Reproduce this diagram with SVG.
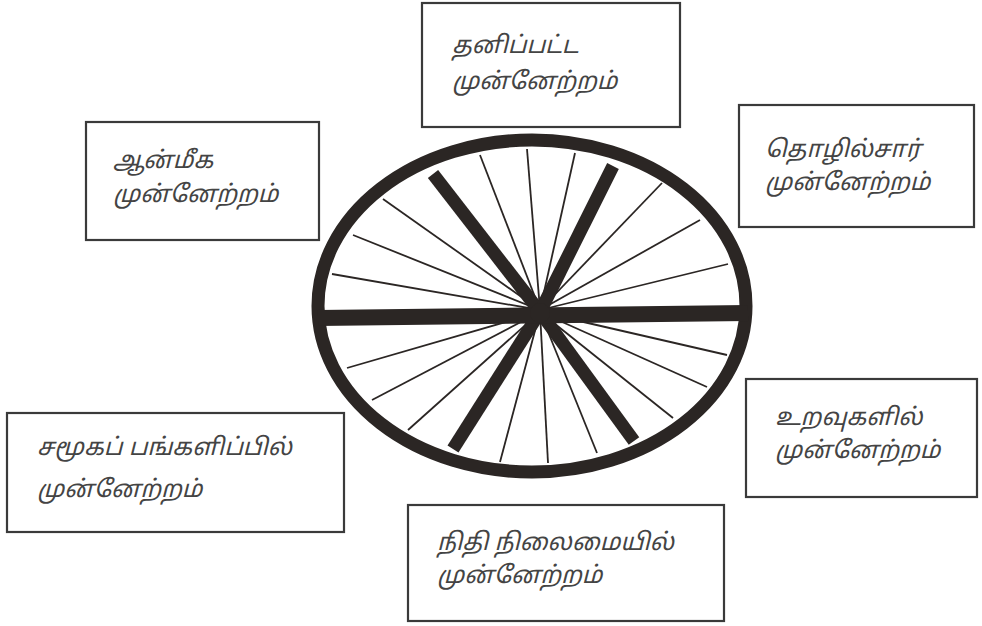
<svg xmlns="http://www.w3.org/2000/svg" width="982" height="626" viewBox="0 0 982 626">
<style>
.box{fill:#fff;stroke:#3a3a3a;stroke-width:2.2}
.t{font-family:"Noto Sans Tamil","Lohit Tamil","Noto Serif Tamil","Latha",sans-serif;font-size:24px;font-style:italic;fill:#444}
.thin{stroke:#2b2624;stroke-width:1.8;fill:none}
.thick{stroke:#2b2624;stroke-width:13;fill:none;stroke-linecap:butt}
.rim{stroke:#2b2624;stroke-width:13;fill:none}
</style>
<rect width="982" height="626" fill="#fff"/>
<g id="wheel">
<ellipse class="rim" cx="532" cy="306" rx="214" ry="166"/>
<g id="spokes">
<line class="thin" x1="540" y1="310" x2="383" y2="199"/>
<line class="thin" x1="540" y1="310" x2="353" y2="235"/>
<line class="thin" x1="540" y1="310" x2="332" y2="274"/>
<line class="thin" x1="540" y1="310" x2="480" y2="155"/>
<line class="thin" x1="540" y1="310" x2="527" y2="149"/>
<line class="thin" x1="540" y1="310" x2="575" y2="153"/>
<line class="thin" x1="540" y1="310" x2="662" y2="183"/>
<line class="thin" x1="540" y1="310" x2="700" y2="220"/>
<line class="thin" x1="540" y1="310" x2="728" y2="264"/>
<line class="thin" x1="540" y1="312" x2="347" y2="368"/>
<line class="thin" x1="540" y1="312" x2="372" y2="400"/>
<line class="thin" x1="540" y1="312" x2="408" y2="430"/>
<line class="thin" x1="540" y1="312" x2="500" y2="462"/>
<line class="thin" x1="540" y1="312" x2="548" y2="463"/>
<line class="thin" x1="540" y1="312" x2="597" y2="453"/>
<line class="thin" x1="540" y1="312" x2="673" y2="418"/>
<line class="thin" x1="540" y1="312" x2="707" y2="387"/>
<line class="thin" x1="540" y1="312" x2="727" y2="355"/>
<line class="thick" x1="540" y1="312" x2="433" y2="174"/>
<line class="thick" x1="540" y1="312" x2="613" y2="166"/>
<line class="thick" x1="540" y1="312" x2="453" y2="449"/>
<line class="thick" x1="540" y1="312" x2="634" y2="441"/>
<line class="thick" style="stroke-width:16" x1="318" y1="318" x2="748" y2="313"/>
<circle cx="540" cy="313" r="10" fill="#2b2624"/>
</g>
</g>
<g id="n-top">
<rect class="box" x="422" y="3" width="258" height="124"/>
<text class="t" x="452" y="53">தனிப்பட்ட</text>
<text class="t" x="452" y="89">முன்னேற்றம்</text>
</g>
<g id="n-left">
<rect class="box" x="86" y="122" width="233" height="118"/>
<text class="t" x="113" y="168">ஆன்மீக</text>
<text class="t" x="113" y="202">முன்னேற்றம்</text>
</g>
<g id="n-right">
<rect class="box" x="739" y="105" width="235" height="122"/>
<text class="t" x="765" y="157">தொழில்சார்</text>
<text class="t" x="765" y="190">முன்னேற்றம்</text>
</g>
<g id="n-bottomleft">
<rect class="box" x="7" y="413" width="337" height="119"/>
<text class="t" x="37" y="455">சமூகப் பங்களிப்பில்</text>
<text class="t" x="37" y="497">முன்னேற்றம்</text>
</g>
<g id="n-bottomright">
<rect class="box" x="746" y="379" width="231" height="118"/>
<text class="t" x="775" y="425">உறவுகளில்</text>
<text class="t" x="775" y="458">முன்னேற்றம்</text>
</g>
<g id="n-bottom">
<rect class="box" x="408" y="505" width="316" height="116"/>
<text class="t" x="437" y="550">நிதி நிலைமையில்</text>
<text class="t" x="437" y="583">முன்னேற்றம்</text>
</g>
</svg>
